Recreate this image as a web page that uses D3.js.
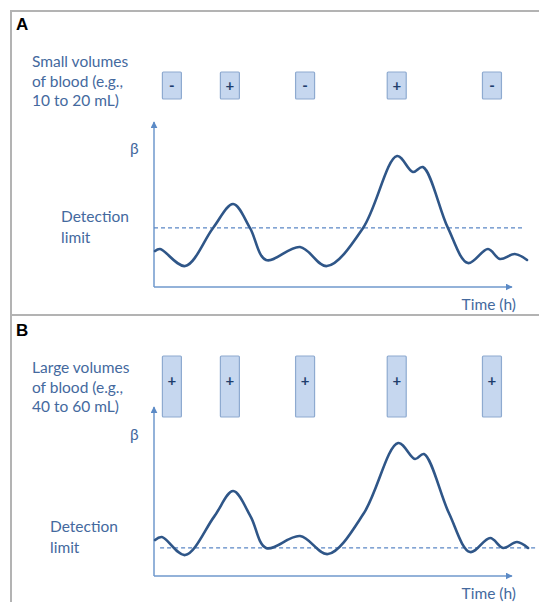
<!DOCTYPE html>
<head>
  <meta charset="utf-8">
  <style>
  body { margin: 0; background: #fff; }
  text { font-family: Lato, 'Open Sans', sans-serif; }
  .note { fill: #44699e; font-size: 15.5px; }
  .panel-label { fill: #000; font-size: 17px; font-weight: 700; font-family: 'Liberation Sans', Arial, sans-serif; }
  </style>
</head>
<body>
  <svg id="chart"></svg>

  <script src="https://cdnjs.cloudflare.com/ajax/libs/d3/7.8.5/d3.min.js"></script>
  <script>

  var width = 539,
      height = 602;

  // time points (arbitrary units) of the curve
  var timesA = [0.3, 1.7, 8.7, 16.5, 22.1, 26.8, 31.3, 40.8, 48.3, 58.4, 67.9, 72.3, 75.1, 82.1, 87.7, 93.3, 96.6, 100.8, 104.2];
  var betaA  = [21.8, 23.0, 12.7, 35.8, 50.3, 35.8, 16.4, 24.2, 12.7, 35.8, 79.4, 69.7, 72.7, 35.8, 14.5, 23.0, 17.0, 20.0, 16.4];

  var timesB = [0.3, 2.2, 8.7, 16.8, 22.1, 27.0, 31.3, 40.8, 48.6, 58.6, 68.2, 72.9, 75.4, 82.4, 88.3, 93.9, 97.5, 101.4, 104.5];
  var betaB  = [21.8, 23.6, 12.7, 36.0, 51.5, 36.0, 17.0, 24.2, 13.3, 38.0, 80.6, 70.9, 73.9, 38.0, 14.5, 23.0, 17.0, 20.6, 17.0];

  var detectionA = 35.8,
      detectionB = 17.0;

  // blood draws
  var drawTimes = [5.0, 21.2, 42.2, 67.8, 94.4];
  var signsA = ['-', '+', '-', '+', '-'];
  var signsB = ['+', '+', '+', '+', '+'];

  var svg = d3.select('#chart')
    .attr('width', width)
    .attr('height', height);

  var x = d3.scaleLinear()
    .domain([0, 100])
    .range([154, 512]);

  // frame
  svg.append('path')
    .attr('d', 'M11,602V11H539')
    .attr('fill', 'none')
    .attr('stroke', '#b3b3b3')
    .attr('stroke-width', 2);
  svg.append('line')
    .attr('x1', 11).attr('x2', 539)
    .attr('y1', 315).attr('y2', 315)
    .attr('stroke', '#b3b3b3')
    .attr('stroke-width', 2);

  var defs = svg.append('defs');
  defs.append('marker')
    .attr('id', 'arrow')
    .attr('viewBox', '0 0 10 10')
    .attr('refX', 9).attr('refY', 5)
    .attr('markerWidth', 7).attr('markerHeight', 7)
    .attr('markerUnits', 'userSpaceOnUse')
    .attr('orient', 'auto')
    .append('path')
      .attr('d', 'M0,0L10,5L0,10z')
      .attr('fill', '#5b8ac6');

  function panel(opt) {
    var g = svg.append('g');

    var y = d3.scaleLinear()
      .domain([0, 100])
      .range([opt.base, opt.base - 165]);

    g.append('text')
      .attr('class', 'panel-label')
      .attr('x', 16).attr('y', opt.labelY)
      .text(opt.label);

    g.append('text')
      .attr('class', 'note')
      .selectAll('tspan')
      .data(opt.note)
      .enter().append('tspan')
        .attr('x', 32)
        .attr('y', function(d, i) { return opt.noteY + i * 19.5; })
        .text(function(d) { return d; });

    // sample boxes
    var box = g.selectAll('.box')
      .data(drawTimes)
      .enter().append('g')
        .attr('class', 'box')
        .attr('transform', function(d) { return 'translate(' + x(d) + ',0)'; });

    box.append('rect')
      .attr('x', -9.5)
      .attr('y', opt.boxTop)
      .attr('width', 19)
      .attr('height', opt.boxH)
      .attr('rx', 1)
      .attr('fill', '#c6d7ef')
      .attr('stroke', '#8eaad0')
      .attr('stroke-width', 1.2);

    box.append('text')
      .attr('text-anchor', 'middle')
      .attr('y', opt.signY)
      .attr('fill', '#1f3e6d')
      .style('font-size', '15px')
      .style('font-weight', 700)
      .text(function(d, i) { return opt.signs[i]; });

    // axes
    g.append('path')
      .attr('d', 'M' + x(0) + ',' + y(0) + 'V' + (opt.base - opt.axisH))
      .attr('stroke', '#6f98cc')
      .attr('stroke-width', 1.5)
      .attr('fill', 'none')
      .attr('marker-end', 'url(#arrow)');
    g.append('path')
      .attr('d', 'M' + x(0) + ',' + y(0) + 'H' + x(100))
      .attr('stroke', '#6f98cc')
      .attr('stroke-width', 1.5)
      .attr('fill', 'none')
      .attr('marker-end', 'url(#arrow)');

    g.append('text')
      .attr('class', 'note')
      .attr('x', 130).attr('y', opt.betaY)
      .text('β');

    g.append('text')
      .attr('class', 'note')
      .attr('x', 516).attr('y', opt.base + 23)
      .attr('text-anchor', 'end')
      .text('Time (h)');

    g.append('text')
      .attr('class', 'note')
      .selectAll('tspan')
      .data(['Detection', 'limit'])
      .enter().append('tspan')
        .attr('x', opt.detX)
        .attr('y', function(d, i) { return opt.detTextY + i * 21; })
        .text(function(d) { return d; });

    // detection limit
    g.append('line')
      .attr('x1', x(opt.detFrom)).attr('x2', x(opt.detTo))
      .attr('y1', y(opt.detection)).attr('y2', y(opt.detection))
      .attr('stroke', '#5b87c5')
      .attr('stroke-width', 1.2)
      .attr('stroke-dasharray', '4,3');

    var line = d3.line()
      .x(function(d) { return x(d[0]); })
      .y(function(d) { return y(d[1]); })
      .curve(d3.curveCatmullRom.alpha(0.5));

    g.append('path')
      .datum(d3.zip(opt.times, opt.beta))
      .attr('d', line)
      .attr('fill', 'none')
      .attr('stroke', '#2f5688')
      .attr('stroke-width', 2.6)
      .attr('stroke-linecap', 'round');
  }

  panel({
    label: 'A', labelY: 30,
    note: ['Small volumes', 'of blood (e.g.,', '10 to 20 mL)'], noteY: 67,
    signs: signsA, boxTop: 72, boxH: 27, signY: 91,
    base: 287, axisH: 165,
    betaY: 154,
    detection: detectionA, detFrom: 0, detTo: 103.4,
    detX: 61, detTextY: 222,
    times: timesA, beta: betaA
  });

  panel({
    label: 'B', labelY: 336,
    note: ['Large volumes', 'of blood (e.g.,', '40 to 60 mL)'], noteY: 373,
    signs: signsB, boxTop: 356, boxH: 61, signY: 386,
    base: 576, axisH: 169,
    betaY: 440,
    detection: detectionB, detFrom: 1.7, detTo: 107,
    detX: 50, detTextY: 532,
    times: timesB, beta: betaB
  });

  </script>
</body>
